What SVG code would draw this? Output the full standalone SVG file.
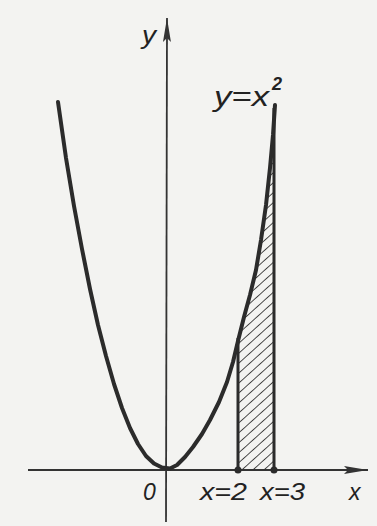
<svg xmlns="http://www.w3.org/2000/svg" width="377" height="526" viewBox="0 0 377 526">
<style>
.lbl{font-family:"Liberation Sans",Arial,sans-serif;font-style:italic;fill:#222;}
.axis{stroke:#333;stroke-width:1.8;fill:none;}
.curve{stroke:#2b2b2b;stroke-width:4;fill:none;stroke-linejoin:round;stroke-linecap:round;}
.bound{stroke:#2b2b2b;stroke-width:3;fill:none;}
</style>
<defs>
<pattern id="hatch" patternUnits="userSpaceOnUse" width="7.4" height="7.4" patternTransform="rotate(48)">
<line x1="0" y1="0" x2="0" y2="7.4" stroke="#2e2e2e" stroke-width="1.7"/>
</pattern>
<marker id="arr" viewBox="0 0 24 8" refX="24" refY="4" markerWidth="24" markerHeight="8" markerUnits="userSpaceOnUse" orient="auto">
<path d="M0,0 L24,4 L0,8 L4,4 Z" fill="#333"/>
</marker>
</defs>
<rect width="377" height="526" fill="#f3f3f1"/>
<g id="connectors">
<line id="x-axis" class="axis" x1="28" y1="470" x2="368" y2="470" marker-end="url(#arr)"/>
<line id="y-axis" class="axis" x1="166" y1="522" x2="167" y2="18" marker-end="url(#arr)"/>
</g>
<g id="region">
<path d="M238,470 L238,340 L244,315 L250,295 L256,270 L261,240 L266,205 L270,167 L273,135 L274,110 L274,470 Z" fill="url(#hatch)"/>
<line class="bound" x1="238" y1="470" x2="238" y2="338"/>
<line class="bound" x1="274" y1="470" x2="274" y2="108"/>
<circle cx="238" cy="470" r="3.5" fill="#2b2b2b"/>
<circle cx="274" cy="470" r="3.5" fill="#2b2b2b"/>
</g>
<g id="parabola">
<path class="curve" d="M58,102 L66,158 L74,206 L82,249 L90,289 L98,325 L106,356 L114,384 L122,408 L130,428 L138,444 L146,456 L154,463.5 L162,467.5 L170,468.5 L177,465 L185,457 L193,447 L202,434 L210,420 L219,402 L227,382 L233,362 L238,341 L244,317 L250,295 L256,270 L261,240 L266,205 L270,168 L273,135 L275,105"/>
</g>
<g id="labels">
<text class="lbl" x="142" y="44" font-size="26" textLength="14" lengthAdjust="spacingAndGlyphs">y</text>
<text class="lbl" x="214" y="106" font-size="27" textLength="55" lengthAdjust="spacingAndGlyphs">y=x</text>
<text class="lbl" x="272" y="90" font-size="18" font-weight="bold">2</text>
<text class="lbl" x="143" y="500" font-size="23">0</text>
<text class="lbl" x="200" y="500" font-size="23" textLength="47" lengthAdjust="spacingAndGlyphs">x=2</text>
<text class="lbl" x="260" y="500" font-size="23" textLength="45" lengthAdjust="spacingAndGlyphs">x=3</text>
<text class="lbl" x="349" y="500" font-size="23">x</text>
</g>
</svg>
